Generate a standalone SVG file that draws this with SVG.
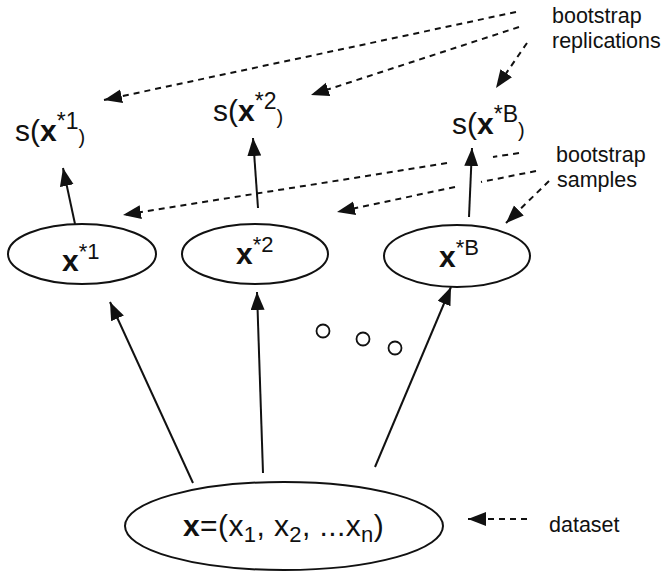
<svg xmlns="http://www.w3.org/2000/svg" width="668" height="573" viewBox="0 0 668 573">
<style>
text{font-family:"Liberation Sans",Arial,Helvetica,sans-serif;fill:#111}
.node{fill:#fff;stroke:#111;stroke-width:2}
.solid{fill:none;stroke:#111;stroke-width:2}
.dash{fill:none;stroke:#111;stroke-width:2;stroke-dasharray:6 5}
.dot{fill:#fff;stroke:#111;stroke-width:1.8}
.lbl{font-size:21.5px}
.big{font-size:30px}
.b{font-weight:bold}
</style>
<defs>
<marker id="ah" markerUnits="userSpaceOnUse" markerWidth="20" markerHeight="16" refX="18" refY="7" orient="auto">
<path d="M0,0 L18,7 L0,14 z" fill="#111"/>
</marker>
</defs>
<g id="connectors">
<path class="solid" d="M75,224 L63,168" marker-end="url(#ah)"/>
<path class="solid" d="M258,208 L253,138" marker-end="url(#ah)"/>
<path class="solid" d="M469,217 L472,148" marker-end="url(#ah)"/>
<path class="solid" d="M193,483 L110,302" marker-end="url(#ah)"/>
<path class="solid" d="M263,473 L257,292" marker-end="url(#ah)"/>
<path class="solid" d="M375,467 L451,287" marker-end="url(#ah)"/>
<path class="dash" d="M516,12 L104,100" marker-end="url(#ah)"/>
<path class="dash" d="M519,27 L311,95" marker-end="url(#ah)"/>
<path class="dash" d="M527,43 L496,88" marker-end="url(#ah)"/>
<path class="dash" d="M519,153 L493,157 M447,163 L123,215" marker-end="url(#ah)"/>
<path class="dash" d="M536,171 L481,182 M455,187 L337,212" marker-end="url(#ah)"/>
<path class="dash" d="M549,181 L506,223" marker-end="url(#ah)"/>
<path class="dash" d="M527,519 L468,519" marker-end="url(#ah)"/>
</g>
<g id="s1"><text class="big" x="15" y="141">s(<tspan class="b">x</tspan><tspan font-size="23" dy="-12">*1</tspan><tspan font-size="20" dy="15">)</tspan></text></g>
<g id="s2"><text class="big" x="213" y="121">s(<tspan class="b">x</tspan><tspan font-size="23" dy="-12">*2</tspan><tspan font-size="20" dy="15">)</tspan></text></g>
<g id="sB"><text class="big" x="452" y="134">s(<tspan class="b">x</tspan><tspan font-size="23" dy="-12">*B</tspan><tspan font-size="20" dy="15">)</tspan></text></g>
<g id="x1"><ellipse class="node" cx="82" cy="254" rx="74" ry="30"/><text class="big b" x="62" y="271">x<tspan font-weight="normal" font-size="22" dy="-12">*1</tspan></text></g>
<g id="x2"><ellipse class="node" cx="255" cy="254" rx="73" ry="30"/><text class="big b" x="236" y="264">x<tspan font-weight="normal" font-size="22" dy="-12">*2</tspan></text></g>
<g id="xB"><ellipse class="node" cx="457" cy="256" rx="73" ry="31"/><text class="big b" x="439" y="267">x<tspan font-weight="normal" font-size="22" dy="-12">*B</tspan></text></g>
<g id="dots"><circle class="dot" cx="323" cy="331" r="6.5"/><circle class="dot" cx="363" cy="339" r="6.5"/><circle class="dot" cx="395" cy="348" r="6.5"/></g>
<g id="data"><ellipse class="node" cx="284" cy="526" rx="159" ry="44"/><text class="big" x="183" y="536" letter-spacing="0.4"><tspan class="b">x</tspan>=(x<tspan font-size="22" dy="6">1</tspan><tspan dy="-6">, x</tspan><tspan font-size="22" dy="6">2</tspan><tspan dy="-6">, ...x</tspan><tspan font-size="22" dy="6">n</tspan><tspan dy="-6">)</tspan></text></g>
<g id="labels">
<text class="lbl" x="552" y="23">bootstrap</text>
<text class="lbl" x="552" y="48">replications</text>
<text class="lbl" x="556" y="162">bootstrap</text>
<text class="lbl" x="557" y="187">samples</text>
<text class="lbl" x="549" y="532">dataset</text>
</g>
</svg>
